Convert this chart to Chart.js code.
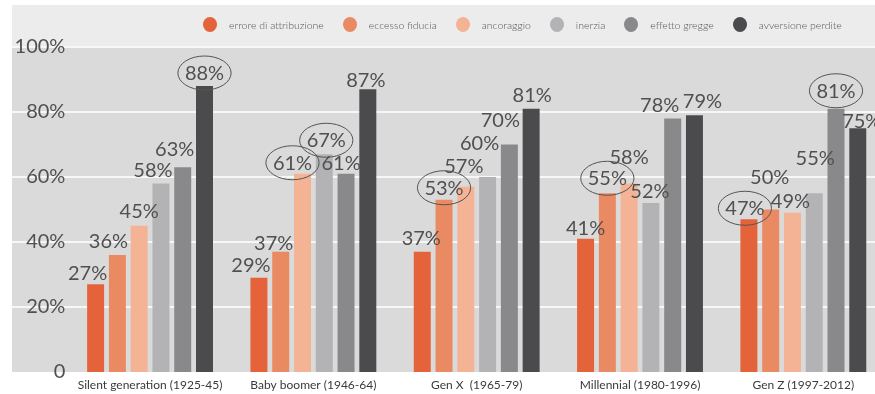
<!DOCTYPE html>
<html>
<head>
<meta charset="utf-8">
<script src="https://cdn.jsdelivr.net/npm/chart.js@4.4.0/dist/chart.umd.min.js"></script>
<style>
  html, body { margin: 0; padding: 0; background: #fff; }
  #wrap { position: relative; width: 875px; height: 394px; overflow: hidden; }
  #wrap canvas { position: absolute; left: 0; top: 0; }
  #legend { position: absolute; left: 203px; top: 17px; display: flex; align-items: center;
            font-family: Lato, sans-serif; font-size: 10.5px; font-weight: 300; color: #555; white-space: nowrap; }
  #legend .item { display: flex; align-items: center; margin-right: 19px; }
  #legend .dot { flex-shrink: 0; width: 14px; height: 15px; border-radius: 50%; margin-right: 12px; }
</style>
</head>
<body>
<div id="wrap">
  <canvas id="bars" width="885" height="394"></canvas>
  <div id="legend"></div>
</div>
<script>
const categories = ['Silent generation (1925-45)', 'Baby boomer (1946-64)', 'Gen X  (1965-79)', 'Millennial (1980-1996)', 'Gen Z (1997-2012)'];
const seriesNames = ['errore di attribuzione', 'eccesso fiducia', 'ancoraggio', 'inerzia', 'effetto gregge', 'avversione perdite'];

const erroreAttribuzione = [27, 29, 37, 41, 47];
const eccessoFiducia = [36, 37, 53, 55, 50];
const ancoraggio = [45, 61, 57, 58, 49];
const inerzia = [58, 67, 60, 52, 55];
const effettoGregge = [63, 61, 70, 78, 81];
const avversionePerdite = [88, 87, 81, 79, 75];

const yTicks = [0, 20, 40, 60, 80, 100];
// [series, category] of the values that are circled
const circledLabels = [[5, 0], [2, 1], [3, 1], [1, 2], [1, 3], [0, 4], [4, 4]];

const colors = ['#e4633a', '#ea8a62', '#f3b394', '#b3b3b5', '#89898b', '#4b4b4d'];

// hand placement of the value labels, [dx, baseline offset from bar top]
const labelNudge = [
  [[-8, -4], [-8, -6], [-1, -7], [0, -4], [-4, -4]],
  [[-9, -7], [-7, -2], [0, -5], [0, -8], [-1, -26]],
  [[0, -8], [-10, -4], [-2, -14], [0, -20], [-2, -5]],
  [[-8, -7], [2, -7], [-8, -27], [-1, -5], [1, -28]],
  [[-8, -11], [-5, -4], [-9, -18], [-13, -7], [0, -11]],
  [[0, -6], [-2, -2], [1, -7], [8, -7], [4, 0]]
];

const allSeries = [erroreAttribuzione, eccessoFiducia, ancoraggio, inerzia, effettoGregge, avversionePerdite];

// html legend
const legend = document.getElementById('legend');
seriesNames.forEach((name, i) => {
  const item = document.createElement('div');
  item.className = 'item';
  if (i === seriesNames.length - 1) item.style.marginRight = '0';
  item.innerHTML = `<span class="dot" style="background:${colors[i]}"></span><span>${name}</span>`;
  legend.appendChild(item);
});

const backdrop = {
  id: 'backdrop',
  beforeDraw(chart) {
    const {ctx, width, chartArea, scales: {y}} = chart;
    ctx.save();
    ctx.fillStyle = '#fff';
    ctx.fillRect(0, 0, width, chart.height);
    const top = y.getPixelForValue(100);
    ctx.fillStyle = '#ececec';
    ctx.fillRect(12, 5, width - 12, top - 5);
    ctx.fillStyle = '#dadada';
    ctx.fillRect(12, top, width - 12, chartArea.bottom - top);
    ctx.strokeStyle = '#f7f7f7';
    ctx.lineWidth = 2;
    yTicks.forEach(v => {
      if (v === 0) return;
      const py = Math.round(y.getPixelForValue(v));
      ctx.beginPath();
      ctx.moveTo(12, py);
      ctx.lineTo(width, py);
      ctx.stroke();
    });
    ctx.restore();
  }
};

const valueLabels = {
  id: 'valueLabels',
  afterDatasetsDraw(chart) {
    const ctx = chart.ctx;
    ctx.save();
    ctx.font = '20px Lato';
    ctx.fillStyle = '#505050';
    ctx.textAlign = 'center';
    ctx.textBaseline = 'alphabetic';
    chart.data.datasets.forEach((ds, si) => {
      chart.getDatasetMeta(si).data.forEach((bar, ci) => {
        const [dx, dy] = labelNudge[si][ci];
        const text = ds.data[ci] + '%';
        const x = bar.x + dx;
        const y = bar.y + dy;
        ctx.fillText(text, x, y);
        if (circledLabels.some(([s, c]) => s === si && c === ci)) {
          const w = ctx.measureText(text).width;
          ctx.beginPath();
          ctx.strokeStyle = '#555';
          ctx.lineWidth = 1;
          ctx.ellipse(x, y - 7, w / 2 + 7, 17, 0, 0, Math.PI * 2);
          ctx.stroke();
        }
      });
    });
    ctx.restore();
  }
};

new Chart(document.getElementById('bars'), {
  type: 'bar',
  data: {
    labels: categories,
    datasets: seriesNames.map((name, i) => ({
      label: name,
      data: allSeries[i],
      backgroundColor: colors[i],
      borderWidth: 0,
      barPercentage: 0.78,
      categoryPercentage: 0.8
    }))
  },
  options: {
    responsive: false,
    animation: false,
    layout: { padding: { top: 47, left: 0, right: 0, bottom: 0 } },
    plugins: {
      legend: { display: false },
      tooltip: { enabled: false }
    },
    scales: {
      x: {
        grid: { display: false, drawTicks: false },
        border: { display: false },
        ticks: { font: { family: 'Lato', size: 12 }, color: '#3a3a3a', padding: 6, maxRotation: 0 },
        afterFit(scale) { scale.height = 22; }
      },
      y: {
        min: 0,
        max: 100,
        afterBuildTicks(scale) { scale.ticks = yTicks.map(v => ({ value: v })); },
        grid: { display: false, drawTicks: false },
        border: { display: false },
        ticks: {
          font: { family: 'Lato', size: 20 },
          color: '#505050',
          padding: 3,
          callback: v => v === 0 ? '0' : v + '%'
        },
        afterFit(scale) { scale.width = 68.4; }
      }
    }
  },
  plugins: [backdrop, valueLabels]
});
</script>
</body>
</html>
